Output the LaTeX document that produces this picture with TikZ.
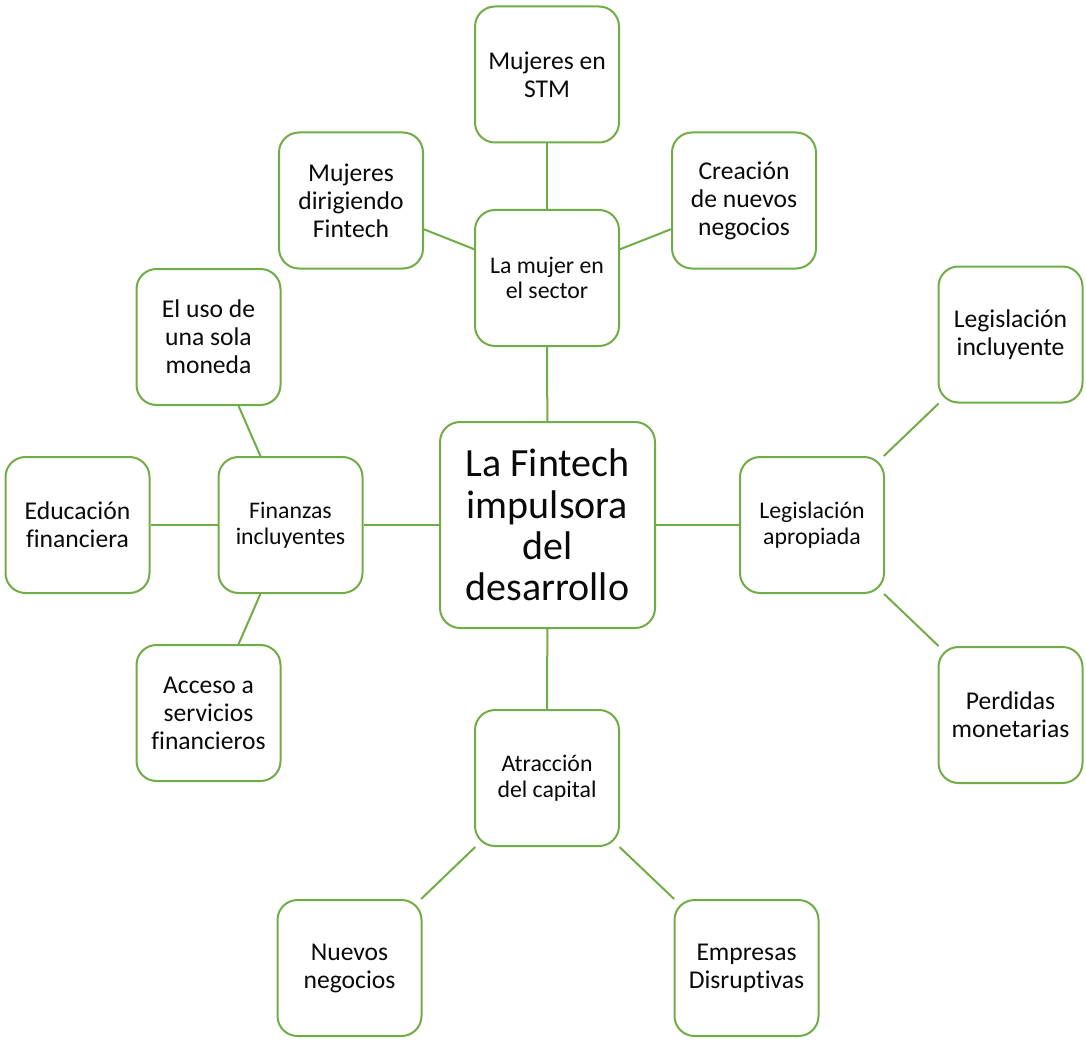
\documentclass[tikz,border=0pt]{standalone}
\usepackage{fontspec}
\setmainfont{Carlito}[Ligatures=NoCommon]
\usetikzlibrary{positioning}
\definecolor{leafgreen}{RGB}{112,173,71}
\definecolor{ink}{RGB}{10,10,10}

\begin{document}
\begin{tikzpicture}[x=0.5pt,y=-0.5pt,
    box/.style={draw=leafgreen,line width=1pt,rounded corners=10pt,
      fill=white,text=ink,align=center,inner sep=2pt,
      minimum width=72pt,minimum height=68pt},
    leaf/.style={box,font=\fontsize{12.8}{14}\selectfont},
    branch/.style={box,font=\fontsize{11.9}{12.9}\selectfont},
    hub/.style={box,minimum width=107.5pt,minimum height=103pt,
      font=\fontsize{20}{20.6}\selectfont},
    link/.style={draw=leafgreen,line width=1pt}]
  \useasboundingbox (0,0) rectangle (1086,1043);

  % centre
  \node[hub] (fintech) at (547.5,525) {La Fintech\\impulsora\\del\\desarrollo};

  % the four branches
  \node[branch] (mujer) at (547,278) {La mujer en\\el sector};
  \node[branch] (finanzas) at (290.5,525) {Finanzas\\incluyentes};
  \node[branch] (legis) at (812,525) {Legislación\\apropiada};
  \node[branch] (capital) at (547,778) {Atracción\\del capital};

  % leaves
  \node[leaf] (stm) at (547,74.5) {Mujeres en\\STM};
  \node[leaf] (dirigiendo) at (351,200.5) {Mujeres\\dirigiendo\\Fintech};
  \node[leaf] (creacion) at (744,200.5) {Creación\\de nuevos\\negocios};
  \node[leaf] (moneda) at (208.5,337) {El uso de\\una sola\\moneda};
  \node[leaf] (educacion) at (77.5,525) {Educación\\financiera};
  \node[leaf] (acceso) at (208.5,713) {Acceso a\\servicios\\financieros};
  \node[leaf] (incluyente) at (1010.5,334.5) {Legislación\\incluyente};
  \node[leaf] (perdidas) at (1010.5,715) {Perdidas\\monetarias};
  \node[leaf] (nuevos) at (349.5,968) {Nuevos\\negocios};
  \node[leaf] (disruptivas) at (746.5,968) {Empresas\\Disruptivas};

  % connectors
  \foreach \a/\b in {fintech/mujer,fintech/finanzas,fintech/legis,fintech/capital,
      mujer/stm,mujer/dirigiendo,mujer/creacion,
      finanzas/moneda,finanzas/educacion,finanzas/acceso,
      legis/incluyente,legis/perdidas,
      capital/nuevos,capital/disruptivas}
    \draw[link] (\a) -- (\b);
\end{tikzpicture}
\end{document}
